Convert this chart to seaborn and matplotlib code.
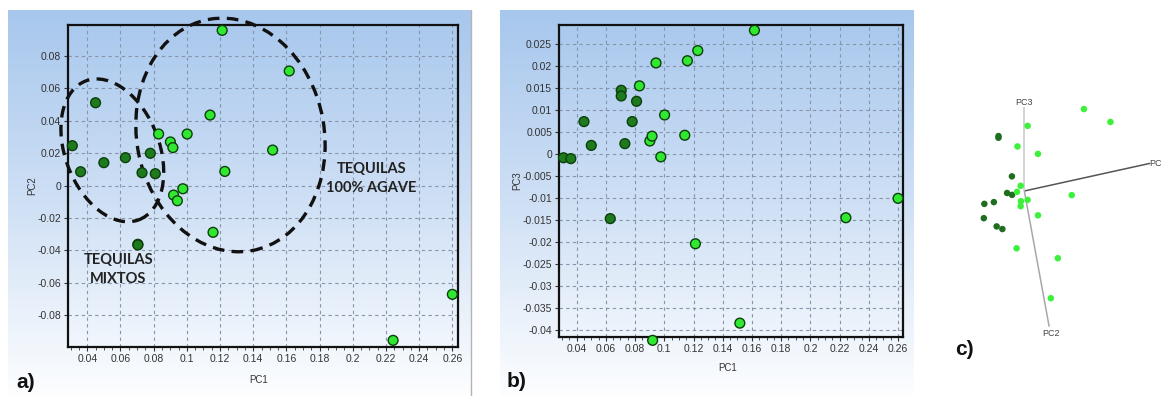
import numpy as np
import pandas as pd
import matplotlib
matplotlib.use("Agg")
import matplotlib.pyplot as plt
import seaborn as sns
from matplotlib.patches import Ellipse
from matplotlib.colors import LinearSegmentedColormap
from matplotlib.ticker import FixedLocator, MultipleLocator, FuncFormatter

# ---------------- data ----------------
group = ["Mixto"] * 10 + ["100% agave"] * 15
pc1 = [0.031, 0.036, 0.045, 0.050, 0.063, 0.0705, 0.0705, 0.073, 0.078, 0.081,
       0.1617, 0.1229, 0.1213, 0.1158, 0.1140, 0.0830, 0.1002, 0.0901, 0.0916,
       0.0920, 0.0943, 0.0976, 0.1517, 0.2243, 0.2600]
pc2 = [0.0247, 0.0086, 0.0512, 0.0142, 0.0173, -0.0362, -0.0366, 0.0080, 0.0200, 0.0074,
       0.0708, 0.0088, 0.0959, -0.0288, 0.0436, 0.0319, 0.0319, 0.0270, 0.0235,
       -0.0058, -0.0093, -0.0019, 0.0220, -0.0955, -0.0671]
pc3 = [-0.0009, -0.0011, 0.0073, 0.0019, -0.0147, 0.0144, 0.0131, 0.0023, 0.0073, 0.0119,
       0.0280, 0.0234, -0.0204, 0.0211, 0.0042, 0.0154, 0.0088, 0.0029, 0.0040,
       -0.0423, 0.0206, -0.0007, -0.0384, -0.0145, -0.0101]

pc1_ticks = [0.04, 0.06, 0.08, 0.10, 0.12, 0.14, 0.16, 0.18, 0.20, 0.22, 0.24, 0.26]
pc2_ticks = [-0.08, -0.06, -0.04, -0.02, 0.0, 0.02, 0.04, 0.06, 0.08]
pc3_ticks = [-0.04, -0.035, -0.03, -0.025, -0.02, -0.015, -0.01, -0.005, 0.0,
             0.005, 0.01, 0.015, 0.02, 0.025]

label_agave = "TEQUILAS\n100% AGAVE"
label_mixto = "TEQUILAS\nMIXTOS"

df = pd.DataFrame({"PC1": pc1, "PC2": pc2, "PC3": pc3, "group": group})

# ---------------- styling ----------------
sns.set_style("white")
plt.rcParams["font.family"] = ["Liberation Sans", "DejaVu Sans"]

W, H = 1161, 396
fig = plt.figure(figsize=(W / 100, H / 100), dpi=100)
fig.patch.set_facecolor("white")


def px_axes(l, t, r, b):
    return fig.add_axes([l / W, 1 - b / H, (r - l) / W, (b - t) / H])


# gradient backgrounds of panels a and b
bg = px_axes(0, 0, W, H)
bg.set_xlim(0, W)
bg.set_ylim(H, 0)
bg.axis("off")
bg.set_zorder(-10)
grad = np.linspace(0, 1, 256)[:, None]
cmap_bg = LinearSegmentedColormap.from_list("bg", ["#a7c7ed", "#cfe0f5", "#fdfeff"])
bg.imshow(grad, extent=(8, 471, 396, 10), cmap=cmap_bg, aspect="auto")
bg.imshow(grad, extent=(500, 914, 396, 10), cmap=cmap_bg, aspect="auto")
bg.plot([471, 471], [10, 396], color="#b4b4b4", lw=1)

palette = {"Mixto": "#1d7a1d", "100% agave": "#30e830"}
tick_fmt = FuncFormatter(lambda v, p: f"{v:g}" if abs(v) > 1e-12 else "0")


def style_axes(ax, xticks, yticks, xlim, ylim, ylabel, xlab_y, ylab_x):
    ax.patch.set_alpha(0)
    ax.set_xlim(*xlim)
    ax.set_ylim(*ylim)
    ax.xaxis.set_major_locator(FixedLocator(xticks))
    ax.yaxis.set_major_locator(FixedLocator(yticks))
    ax.xaxis.set_minor_locator(MultipleLocator(0.005))
    ax.xaxis.set_major_formatter(tick_fmt)
    ax.yaxis.set_major_formatter(tick_fmt)
    ax.grid(True, which="major", ls=(0, (3, 3)), color="#8795aa", lw=0.8)
    ax.set_axisbelow(True)
    for s in ax.spines.values():
        s.set_visible(True)
        s.set_color("#111111")
        s.set_linewidth(1.6)
    ax.tick_params(which="major", bottom=True, left=True, direction="out",
                   length=3, width=0.8, labelsize=7.5, labelcolor="#333333",
                   color="#333333", pad=2)
    ax.tick_params(which="minor", bottom=True, direction="out", length=2,
                   width=0.6, color="#333333")
    ax.set_xlabel("PC1", fontsize=7, color="#333333")
    ax.set_ylabel(ylabel, fontsize=7, color="#333333")
    ax.xaxis.set_label_coords(0.49, xlab_y)
    ax.yaxis.set_label_coords(ylab_x, 0.5)
    for coll in ax.collections:
        coll.set_clip_on(False)


# ---------------- panel a ----------------
ax_a = px_axes(68, 25, 458, 347)
sns.scatterplot(data=df, x="PC1", y="PC2", hue="group", palette=palette, s=50,
                edgecolor="#0c3f0c", linewidth=1.0, legend=False, ax=ax_a, zorder=3)
style_axes(ax_a, pc1_ticks, pc2_ticks, (0.0284, 0.2634), (-0.0996, 0.0992),
           "PC2", -0.088, -0.08)

ell_style = dict(fill=False, ec="#111111", lw=2.4, ls=(0, (3.5, 2.2)),
                 clip_on=False, zorder=2.5)
ax_a.add_patch(Ellipse((0.0551, 0.0218), width=0.0569, height=0.0915, angle=20, **ell_style))
ax_a.add_patch(Ellipse((0.1263, 0.0313), width=0.113, height=0.1451, angle=10, **ell_style))

txt_style = dict(ha="center", va="center", fontsize=10.5, fontweight="bold",
                 family=["Lato", "DejaVu Sans"], color="#222222", linespacing=1.45,
                 zorder=5)
ax_a.text(0.2113, 0.0045, label_agave, **txt_style)
ax_a.text(0.0587, -0.0516, label_mixto, **txt_style)

# ---------------- panel b ----------------
ax_b = px_axes(559, 25, 903, 337)
sns.scatterplot(data=df, x="PC1", y="PC3", hue="group", palette=palette, s=50,
                edgecolor="#0c3f0c", linewidth=1.0, legend=False, ax=ax_b, zorder=3)
style_axes(ax_b, pc1_ticks, pc3_ticks, (0.0279, 0.2634), (-0.04154, 0.0292),
           "PC3", -0.083, -0.108)

# ---------------- panel c (3-D projection of the scores) ----------------
ax_c = px_axes(920, 60, 1161, 360)
ax_c.set_xlim(-313, 410)
ax_c.set_ylim(-507, 393)
ax_c.axis("off")
P = np.array([[1850.0, 476.0, 0.0],
              [407.0, -2600.0, 4700.0]])
scores = df[["PC1", "PC2", "PC3"]].to_numpy()
proj = (scores - scores.mean(axis=0)) @ P.T
dfc = pd.DataFrame({"x": proj[:, 0], "y": proj[:, 1], "group": group})

axis_len = [0.204, 0.1566, 0.0535]
axis_cols = ["#555555", "#a8a8a8", "#c8c8c8"]
for i in range(3):
    end = P[:, i] * axis_len[i]
    ax_c.plot([0, end[0]], [0, end[1]], color=axis_cols[i], lw=1.1, zorder=1,
              solid_capstyle="butt")
lab_kw = dict(fontsize=6.5, color="#444444", clip_on=False)
e1 = P[:, 0] * axis_len[0]
e2 = P[:, 1] * axis_len[1]
e3 = P[:, 2] * axis_len[2]
ax_c.text(e1[0] - 2, e1[1], "PC1", ha="left", va="center", **lab_kw)
ax_c.text(e2[0] + 4, e2[1] - 8, "PC2", ha="center", va="top", **lab_kw)
ax_c.text(e3[0], e3[1] + 2, "PC3", ha="center", va="bottom", **lab_kw)

palette_c = {"Mixto": "#1f6e1f", "100% agave": "#3cf03c"}
sns.scatterplot(data=dfc, x="x", y="y", hue="group", palette=palette_c, s=22,
                linewidth=0, legend=False, ax=ax_c, zorder=3)
ax_c.axis("off")

# ---------------- panel letters ----------------
let_kw = dict(fontsize=15, fontweight="bold", family=["Liberation Sans", "DejaVu Sans"],
              va="baseline", ha="left", color="#111111")
fig.text(16 / W, 1 - 388 / H, "a)", **let_kw)
fig.text(507 / W, 1 - 387 / H, "b)", **let_kw)
fig.text(955 / W, 1 - 355 / H, "c)", **let_kw)

fig.savefig("out.png", dpi=100)
